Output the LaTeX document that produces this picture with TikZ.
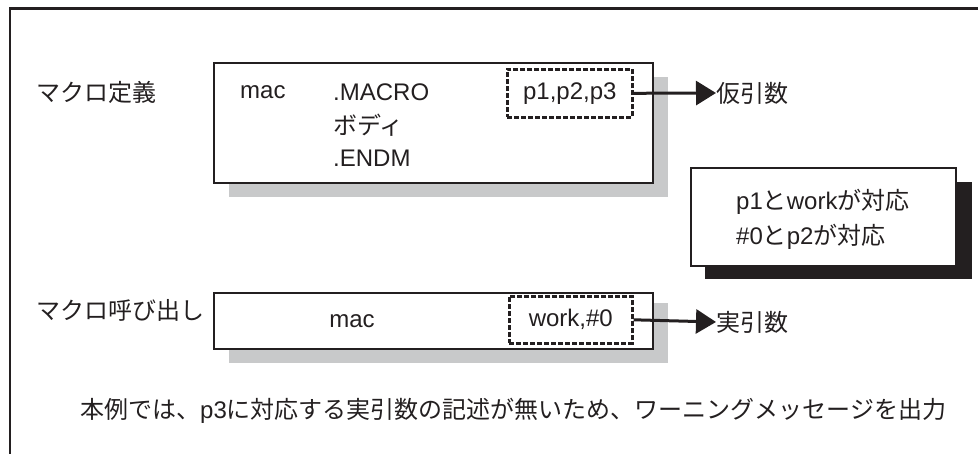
\documentclass[tikz,border=0pt]{standalone}
\usepackage{fontspec}
\setmainfont{Liberation Sans}
\newfontfamily\cjk{Noto Sans CJK JP}
\usetikzlibrary{arrows.meta}
\definecolor{shadowgray}{HTML}{C8C9CA}
\definecolor{inkcol}{HTML}{231F20}
\newcommand\jp[1]{{\cjk #1}}
\begin{document}
\begin{tikzpicture}[x=1pt,y=-1pt,
  every node/.style={font=\fontsize{24pt}{28pt}\selectfont, text=inkcol},
  box/.style={draw=inkcol, line width=2.4pt, fill=white, inner sep=0pt, anchor=north west},
  dbox/.style={draw=inkcol, line width=2.6pt, dash pattern=on 5pt off 2pt, fill=white, inner sep=0pt, anchor=north west},
  conn/.style={draw=inkcol, line width=3pt, -{Triangle[length=20pt,width=24pt]}},
  lbl/.style={anchor=west, inner sep=0pt}]
\useasboundingbox (0,0) rectangle (978,454);
% outer frame (cropped)
\draw[inkcol, line width=2.4pt] (10,454) -- (10,8.5) -- (978,8.5);
% shadows
\fill[shadowgray] (229,77) rectangle (668,197);
\fill[shadowgray] (229,303) rectangle (668,363);
\fill[inkcol] (705,182) rectangle (972,279);
% boxes
\node[box, minimum width=439pt, minimum height=120pt] (def) at (213,62) {};
\node[box, minimum width=265pt, minimum height=98pt] (note) at (690,167) {};
\node[box, minimum width=439pt, minimum height=56pt] (call) at (213,292) {};
\node[dbox, minimum width=125pt, minimum height=48pt] (pp) at (506,68) {};
\node[dbox, minimum width=123pt, minimum height=47pt] (wk) at (508,295) {};
% labels
\node[lbl] (lbldef) at (36,92) {\jp{マクロ定義}};
\node[lbl] (lblcall) at (36,310) {\jp{マクロ呼び出し}};
\node[lbl] (m1) at (240,92) {mac};
\node[lbl] (m2) at (333,92) {.MACRO};
\node[lbl] (m3) at (333,125) {\jp{ボディ}};
\node[lbl] (m4) at (333,158) {.ENDM};
\node (ptxt) at (pp.center) {p1,p2,p3};
\node (wtxt) at (wk.center) {work,\#0};
\node (cm) at (352,321) {mac};
\node[lbl] (n1) at (736,202) {p1\jp{と}work\jp{が対応}};
\node[lbl] (n2) at (736,237) {\#0\jp{と}p2\jp{が対応}};
\node[lbl] (kari) at (716,93) {\jp{仮引数}};
\node[lbl] (jitsu) at (716,322) {\jp{実引数}};
\node[lbl] (foot) at (80,411) {\jp{本例では、}p3\jp{に対応する実引数の記述が無いため、ワーニングメッセージを出力}};
% connectors
\draw[conn] (pp.east) -- (kari.west);
\draw[conn] (wk.east) -- (jitsu.west);
\end{tikzpicture}
\end{document}
